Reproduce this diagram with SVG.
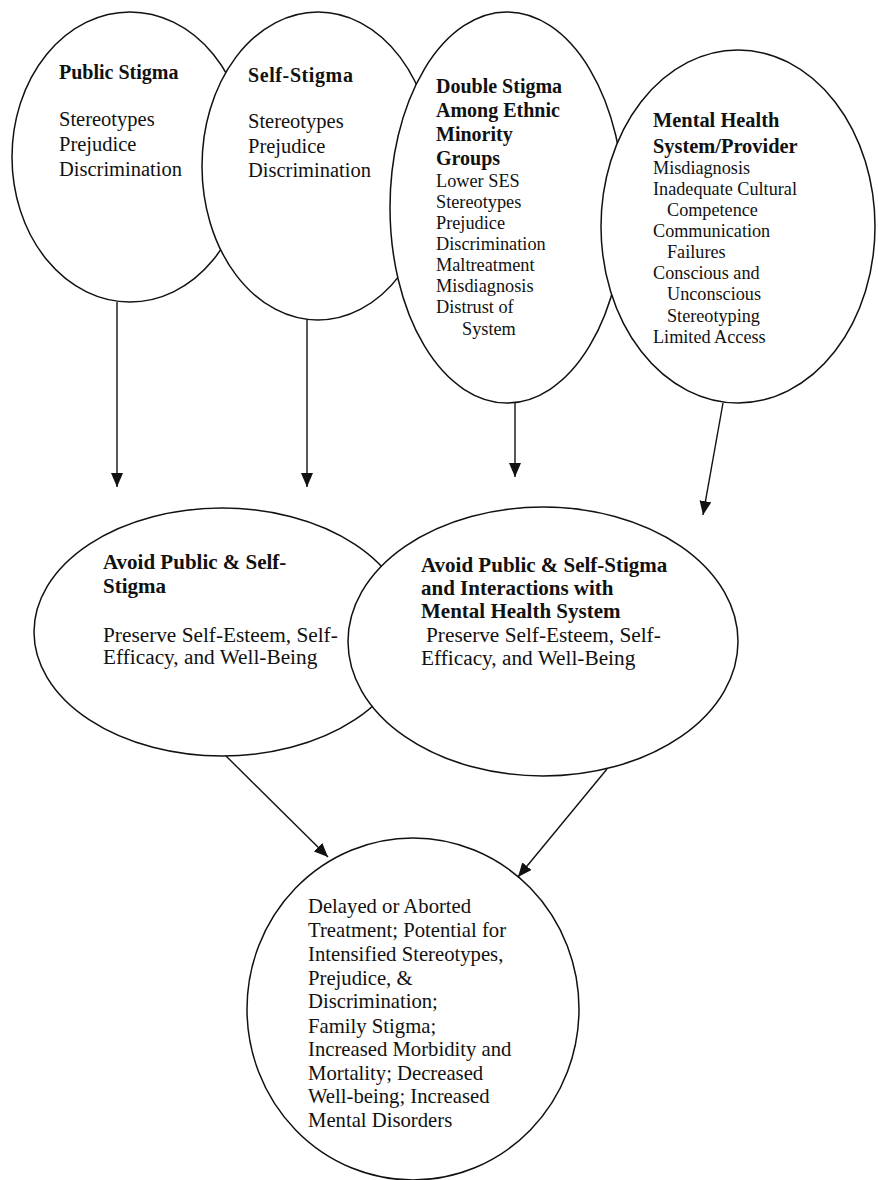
<svg xmlns="http://www.w3.org/2000/svg" width="878" height="1180" viewBox="0 0 878 1180">
<style>
.node{fill:#fff;stroke:#111;stroke-width:1.5}
text{font-family:"Liberation Serif","Times New Roman",serif;fill:#111}
.b{font-weight:bold}
.conn line{stroke:#111;stroke-width:1.4}
</style>
<defs>
<marker id="ah" markerWidth="14" markerHeight="12" refX="14" refY="6" orient="auto" markerUnits="userSpaceOnUse">
<path d="M0,0 L14,6 L0,12 z" fill="#111"/>
</marker>
</defs>
<rect width="878" height="1180" fill="#fff"/>
<g id="public-stigma">
<ellipse class="node" cx="130" cy="157" rx="118" ry="145"/>
<text class="b" x="59" y="79" font-size="20">Public Stigma</text>
<text x="59" y="126" font-size="20.5">Stereotypes</text>
<text x="59" y="151" font-size="20.5">Prejudice</text>
<text x="59" y="176" font-size="20.5">Discrimination</text>
</g>
<g id="self-stigma">
<ellipse class="node" cx="318" cy="166" rx="116" ry="154"/>
<text class="b" x="248" y="82" font-size="20" letter-spacing="0.6">Self-Stigma</text>
<text x="248" y="128" font-size="20.5">Stereotypes</text>
<text x="248" y="153" font-size="20.5">Prejudice</text>
<text x="248" y="177" font-size="20.5">Discrimination</text>
</g>
<g id="double-stigma">
<ellipse class="node" cx="507" cy="207.5" rx="117" ry="195.5"/>
<text class="b" font-size="20" x="436">
<tspan x="436" y="93">Double Stigma</tspan>
<tspan x="436" y="117">Among Ethnic</tspan>
<tspan x="436" y="141">Minority</tspan>
<tspan x="436" y="165">Groups</tspan>
</text>
<text font-size="18.3">
<tspan x="436" y="187">Lower SES</tspan>
<tspan x="436" y="208">Stereotypes</tspan>
<tspan x="436" y="229">Prejudice</tspan>
<tspan x="436" y="250">Discrimination</tspan>
<tspan x="436" y="271">Maltreatment</tspan>
<tspan x="436" y="292">Misdiagnosis</tspan>
<tspan x="436" y="313">Distrust of</tspan>
<tspan x="462" y="335">System</tspan>
</text>
</g>
<g id="mental-health-system">
<ellipse class="node" cx="738" cy="226.5" rx="137" ry="176.5"/>
<text class="b" font-size="20.4">
<tspan x="653" y="127">Mental Health</tspan>
<tspan x="653" y="153">System/Provider</tspan>
</text>
<text font-size="18.2">
<tspan x="653" y="174">Misdiagnosis</tspan>
<tspan x="653" y="195">Inadequate Cultural</tspan>
<tspan x="667" y="216">Competence</tspan>
<tspan x="653" y="237">Communication</tspan>
<tspan x="667" y="258">Failures</tspan>
<tspan x="653" y="279">Conscious and</tspan>
<tspan x="667" y="300">Unconscious</tspan>
<tspan x="667" y="322">Stereotyping</tspan>
<tspan x="653" y="343">Limited Access</tspan>
</text>
</g>
<g id="avoid-stigma">
<ellipse class="node" cx="222" cy="632" rx="188" ry="124"/>
<text class="b" font-size="21">
<tspan x="103" y="569">Avoid Public &amp; Self-</tspan>
<tspan x="103" y="593">Stigma</tspan>
</text>
<text font-size="21.3">
<tspan x="103" y="642">Preserve Self-Esteem, Self-</tspan>
<tspan x="103" y="664">Efficacy, and Well-Being</tspan>
</text>
</g>
<g id="avoid-stigma-and-system">
<ellipse class="node" cx="543" cy="641.5" rx="195" ry="134.5"/>
<text class="b" font-size="21">
<tspan x="421" y="572">Avoid Public &amp; Self-Stigma</tspan>
<tspan x="421" y="595">and Interactions with</tspan>
<tspan x="421" y="618">Mental Health System</tspan>
</text>
<text font-size="21.3">
<tspan x="426" y="642">Preserve Self-Esteem, Self-</tspan>
<tspan x="421" y="665">Efficacy, and Well-Being</tspan>
</text>
</g>
<g id="outcomes">
<ellipse class="node" cx="413" cy="1009" rx="166" ry="171"/>
<text font-size="20.7">
<tspan x="308" y="913">Delayed or Aborted</tspan>
<tspan x="308" y="937">Treatment; Potential for</tspan>
<tspan x="308" y="961">Intensified Stereotypes,</tspan>
<tspan x="308" y="985">Prejudice, &amp;</tspan>
<tspan x="308" y="1008">Discrimination;</tspan>
<tspan x="308" y="1033">Family Stigma;</tspan>
<tspan x="308" y="1056">Increased Morbidity and</tspan>
<tspan x="308" y="1080">Mortality; Decreased</tspan>
<tspan x="308" y="1103">Well-being; Increased</tspan>
<tspan x="308" y="1127">Mental Disorders</tspan>
</text>
</g>
<g id="connectors" class="conn">
<line x1="117" y1="302" x2="117" y2="487" marker-end="url(#ah)"/>
<line x1="307" y1="320" x2="307" y2="487" marker-end="url(#ah)"/>
<line x1="515" y1="403" x2="515" y2="477" marker-end="url(#ah)"/>
<line x1="723" y1="403" x2="703" y2="515" marker-end="url(#ah)"/>
<line x1="226" y1="756" x2="328" y2="857" marker-end="url(#ah)"/>
<line x1="607" y1="769" x2="518" y2="877" marker-end="url(#ah)"/>
</g>
</svg>
